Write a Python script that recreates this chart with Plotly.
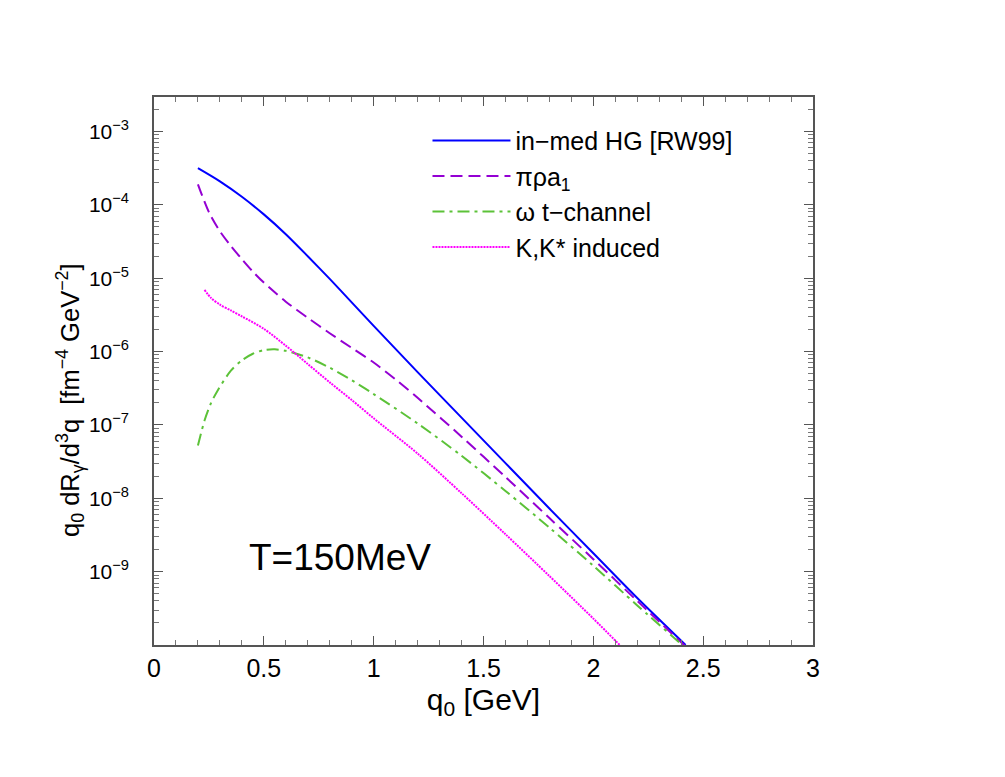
import plotly.graph_objects as go

# ---- data (q0 in GeV, rates in fm^-4 GeV^-2 as log10 values) ----
q_hg = [0.2, 0.3, 0.4, 0.5, 0.6, 0.7, 0.8, 0.9, 1.0, 1.2, 1.4, 1.6, 1.8, 2.0, 2.2, 2.42]
log_hg = [-3.50, -3.68, -3.89, -4.13, -4.40, -4.70, -5.01, -5.33, -5.65, -6.28, -6.90, -7.52, -8.14, -8.75, -9.36, -10.0]

q_pra = [0.2, 0.25, 0.3, 0.35, 0.4, 0.45, 0.5, 0.6, 0.7, 0.8, 0.9, 1.0, 1.1, 1.2, 1.4, 1.6, 1.8, 2.0, 2.2, 2.42]
log_pra = [-3.72, -4.10, -4.36, -4.56, -4.74, -4.91, -5.06, -5.32, -5.54, -5.75, -5.95, -6.15, -6.38, -6.63, -7.16, -7.71, -8.27, -8.83, -9.40, -10.02]

q_om = [0.2, 0.23, 0.26, 0.29, 0.35, 0.4, 0.45, 0.5, 0.55, 0.6, 0.7, 0.8, 0.9, 1.0, 1.2, 1.4, 1.6, 1.8, 2.0, 2.2, 2.42]
log_om = [-7.28, -6.94, -6.70, -6.53, -6.26, -6.12, -6.03, -5.98, -5.97, -5.99, -6.08, -6.22, -6.39, -6.58, -6.98, -7.42, -7.90, -8.40, -8.92, -9.46, -10.04]

q_kk = [0.23, 0.26, 0.3, 0.35, 0.4, 0.5, 0.6, 0.7, 0.8, 0.9, 1.0, 1.2, 1.4, 1.6, 1.8, 2.0, 2.13]
log_kk = [-5.16, -5.27, -5.36, -5.44, -5.52, -5.69, -5.92, -6.17, -6.42, -6.66, -6.91, -7.39, -7.93, -8.49, -9.06, -9.64, -10.03]

names = ["in\u2212med HG [RW99]", "\u03c0\u03c1a<sub>1</sub>", "\u03c9 t\u2212channel", "K,K* induced"]
colors = ["#0000ff", "#9400d3", "#5cc238", "#ff00ff"]
dashes = ["solid", "12px,6px", "12px,5px,3px,5px", "2px,1px"]

ytick_exp = [-3, -4, -5, -6, -7, -8, -9]
xtick_vals = [0, 0.5, 1, 1.5, 2, 2.5, 3]
xtick_text = ["0", "0.5", "1", "1.5", "2", "2.5", "3"]

series = [(q_hg, log_hg), (q_pra, log_pra), (q_om, log_om), (q_kk, log_kk)]

fig = go.Figure()
for i, (q, lg) in enumerate(series):
    fig.add_trace(go.Scatter(
        x=q, y=[10 ** v for v in lg], mode="lines", name=names[i],
        line=dict(color=colors[i], width=2, dash=dashes[i], shape="spline", smoothing=0.8),
    ))

minor_vals = [k * 10.0 ** n for n in range(-10, -2) for k in range(2, 10)]

font = "Liberation Sans, Arial, Helvetica, sans-serif"
fig.update_layout(
    width=1005, height=777,
    margin=dict(l=146, r=200, t=89, b=140),
    paper_bgcolor="white", plot_bgcolor="white",
    font=dict(family=font, color="black"),
    showlegend=True,
    legend=dict(x=0.415, y=0.962, xanchor="left", yanchor="top",
                font=dict(size=25, family=font), tracegroupgap=0,
                bgcolor="rgba(0,0,0,0)", itemwidth=78),
    xaxis=dict(range=[0, 3], tickmode="array", tickvals=xtick_vals, ticktext=xtick_text,
               ticks="inside", ticklen=9, tickwidth=1, tickcolor="#555",
               minor=dict(ticks="inside", ticklen=5, dtick=0.1, tickcolor="#777", showgrid=False),
               showline=True, linecolor="#555", linewidth=1.5, mirror="ticks",
               showgrid=False, zeroline=False,
               tickfont=dict(size=25),
               title=dict(text="q<sub>0</sub> [GeV]", font=dict(size=30), standoff=8)),
    yaxis=dict(type="log", range=[-10, -2.53], tickmode="array",
               tickvals=[10.0 ** e for e in ytick_exp],
               ticktext=[f"10<sup>\u2212{-e}</sup>" for e in ytick_exp],
               ticks="inside", ticklen=9, tickwidth=1, tickcolor="#555",
               minor=dict(ticks="inside", ticklen=5, tickvals=minor_vals, tickcolor="#777", showgrid=False),
               showline=True, linecolor="#555", linewidth=1.5, mirror="ticks",
               showgrid=False, zeroline=False,
               tickfont=dict(size=21), ticklabelstandoff=19),
    annotations=[
        dict(text="T=150MeV", xref="paper", yref="paper", x=0.282, y=0.159,
             xanchor="center", yanchor="middle", showarrow=False,
             font=dict(size=37, family=font)),
        dict(text="q<sub>0</sub> dR<sub>\u03b3</sub>/d<sup>3</sup>q  [fm<sup>\u22124</sup> GeV<sup>\u22122</sup>]",
             xref="paper", yref="paper", x=0, y=0.447, xanchor="center", yanchor="middle",
             xshift=-84, textangle=-90, showarrow=False, font=dict(size=25.5, family=font)),
    ],
)

fig.write_html("out.html")
